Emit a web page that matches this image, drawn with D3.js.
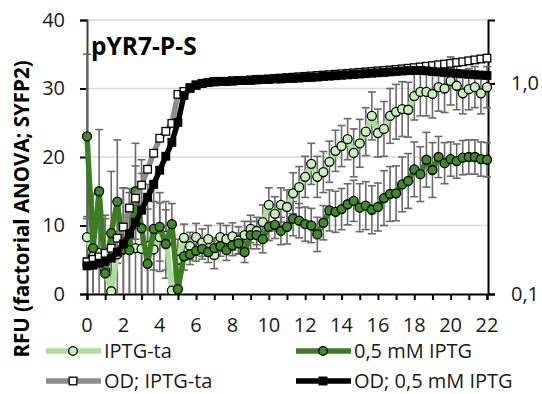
<!DOCTYPE html>
<html>
<head>
<meta charset="utf-8">
<script src="https://cdn.jsdelivr.net/npm/d3@7"></script>
<style>
  body { margin: 0; background: #fff; }
  svg { font-family: "Open Sans", sans-serif; }
</style>
</head>
<body>
<svg id="chart"></svg>
<script>
// sampling times in minutes (every 20 min)
const minutes = [0, 20, 40, 60, 80, 100, 120, 140, 160, 180, 200, 220, 240, 260, 280, 300,
  320, 340, 360, 380, 400, 420, 440, 460, 480, 500, 520, 540, 560, 580, 600, 620, 640, 660,
  680, 700, 720, 740, 760, 780, 800, 820, 840, 860, 880, 900, 920, 940, 960, 980, 1000, 1020,
  1040, 1060, 1080, 1100, 1120, 1140, 1160, 1180, 1200, 1220, 1240, 1260, 1280, 1300, 1320];

// RFU, IPTG-ta
const rfuNoIptg = [8.3, 5.5, 6.0, 3.5, 0.4, 5.8, 6.5, 6.8, 6.7, 6.6, 7.0, 6.5, 8.3, 8.5, 0.5, 5.0,
  8.2, 7.0, 8.3, 7.5, 8.0, 5.7, 8.3, 8.0, 8.4, 7.8, 8.6, 9.5, 9.2, 10.5, 13.0, 11.7, 13.0, 12.7,
  14.7, 15.6, 17.1, 19.0, 17.1, 17.8, 19.3, 20.9, 21.6, 22.6, 20.6, 22.0, 23.7, 26.0, 23.5, 24.1,
  26.0, 26.6, 27.0, 26.9, 28.9, 29.5, 29.5, 29.2, 30.2, 30.0, 31.1, 30.4, 29.3, 29.9, 30.2, 29.3, 30.2];
const errNoIptg = [3, 9, 6, 8, 6, 8, 9, 8, 12, 11, 9, 7, 5, 5, 2, 3,
  2, 2, 2, 2, 2, 2, 2, 2, 2, 2, 2, 2, 2, 2.5, 2.5, 2.5, 2.5, 2.5,
  3, 3, 3, 3, 3, 3, 3, 3, 3, 3, 3.5, 3.5, 3.5, 3.5, 3.5, 4,
  4, 4, 4, 4, 3.5, 3.5, 3.5, 3.5, 3.5, 3.5, 3.5, 3.5, 3, 3, 3, 3, 3];

// RFU, 0,5 mM IPTG
const rfuIptg = [23, 6.7, 15, 3.0, 8.9, 13.5, 6.5, 6.4, 15.0, 9.6, 4.4, 9.5, 9.8, 7.3, 10.2, 0.7,
  5.5, 5.8, 6.3, 6.6, 6.1, 6.7, 7.0, 6.4, 7.1, 7.4, 6.1, 8.6, 8.6, 8.0, 9.8, 10.1, 9.2, 9.8,
  11.0, 10.7, 10.2, 10.0, 8.7, 10.4, 12.2, 12.0, 12.4, 13.1, 13.6, 12.6, 12.9, 12.3, 12.7, 14.0,
  14.6, 14.7, 16.0, 16.5, 18.2, 17.5, 19.6, 18.1, 20.0, 19.1, 19.7, 19.4, 19.9, 20.0, 20.0, 19.7, 19.6];
const errIptg = [12, 8, 9, 8, 9, 9, 9, 9, 7, 10, 8, 6, 5, 5, 3, 1,
  2, 1.5, 1.5, 1.5, 1.5, 1.5, 1.5, 1.5, 1.5, 1.5, 1.5, 2, 2, 2, 2, 2, 2, 2.5,
  2.5, 2.5, 2.5, 2.5, 2.5, 2.5, 3, 3, 3, 3, 3, 3.5, 3.5, 3.5, 3.5, 4,
  4, 4, 4, 4, 4, 4, 4, 4, 3, 3, 2.5, 2.5, 2.5, 2.5, 2.5, 2.5, 2.5];

// OD (secondary axis)
const odNoIptg = [0.142, 0.146, 0.150, 0.156, 0.165, 0.184, 0.208, 0.256, 0.285, 0.329, 0.391, 0.466,
  0.549, 0.592, 0.646, 0.887, 0.916, 0.955, 0.985, 1.0, 1.011, 1.016, 1.022, 1.022, 1.027, 1.033,
  1.033, 1.039, 1.045, 1.045, 1.05, 1.056, 1.06, 1.065, 1.07, 1.075, 1.08, 1.085, 1.09, 1.095, 1.10,
  1.105, 1.11, 1.116, 1.122, 1.128, 1.134, 1.14, 1.146, 1.152, 1.158, 1.165, 1.172, 1.18, 1.188,
  1.197, 1.206, 1.215, 1.225, 1.235, 1.245, 1.256, 1.267, 1.28, 1.293, 1.306, 1.318];
const odIptg = [0.136, 0.137, 0.140, 0.143, 0.148, 0.158, 0.173, 0.193, 0.219, 0.250, 0.288, 0.332,
  0.387, 0.451, 0.525, 0.653, 0.877, 0.947, 0.978, 1.0, 1.011, 1.022, 1.022, 1.022, 1.027, 1.033,
  1.033, 1.033, 1.039, 1.045, 1.045, 1.05, 1.05, 1.056, 1.056, 1.06, 1.065, 1.068, 1.072, 1.079,
  1.083, 1.088, 1.093, 1.098, 1.103, 1.108, 1.113, 1.118, 1.123, 1.128, 1.134, 1.14, 1.145, 1.15,
  1.152, 1.152, 1.148, 1.14, 1.134, 1.128, 1.122, 1.116, 1.11, 1.104, 1.099, 1.095, 1.091];

const xTicks = [0, 2, 4, 6, 8, 10, 12, 14, 16, 18, 20, 22];
const yTicks = [0, 10, 20, 30, 40];
const y2Ticks = [0.1, 1.0];

const seriesNames = ["IPTG-ta", "0,5 mM IPTG", "OD; IPTG-ta", "OD; 0,5 mM IPTG"];

const width = 542, height = 394;
const margin = {top: 20, right: 54, bottom: 100, left: 87};

const svg = d3.select("#chart")
  .attr("width", width)
  .attr("height", height);

const x = d3.scaleLinear().domain([0, 22]).range([margin.left, width - margin.right - 1]);
const y = d3.scaleLinear().domain([0, 40]).range([height - margin.bottom, margin.top]);
const y2 = d3.scaleLog().domain([0.1, 2]).range([height - margin.bottom, margin.top]);

const hours = minutes.map(m => m / 60);

// clip to plot area
svg.append("clipPath").attr("id", "plot")
  .append("rect")
  .attr("x", margin.left - 6).attr("y", margin.top)
  .attr("width", width - margin.right - margin.left + 12)
  .attr("height", height - margin.bottom - margin.top);

// gridlines
svg.append("g")
  .selectAll("line")
  .data(yTicks.slice(1))
  .enter().append("line")
  .attr("x1", x(0)).attr("x2", x(22))
  .attr("y1", d => y(d)).attr("y2", d => y(d))
  .attr("stroke", "#d9d9d9")
  .attr("stroke-width", 1.5);

// left axis
const yAxis = svg.append("g")
  .attr("transform", `translate(${x(0)},0)`)
  .call(d3.axisLeft(y).tickValues(yTicks).tickSize(7).tickPadding(15));

// right axis
const y2Axis = svg.append("g")
  .attr("transform", `translate(${x(22) + 1},0)`)
  .call(d3.axisRight(y2).tickValues(y2Ticks).tickSize(7).tickPadding(16)
    .tickFormat(d => d3.format(".1f")(d).replace(".", ",")));

// bottom axis
const xAxis = svg.append("g")
  .attr("transform", `translate(0,${y(0)})`)
  .call(d3.axisBottom(x).ticks(22).tickSize(6).tickFormat(""));

svg.append("g")
  .selectAll("text")
  .data(xTicks)
  .enter().append("text")
  .attr("x", d => x(d))
  .attr("y", 332)
  .attr("text-anchor", "middle")
  .attr("font-size", 20)
  .attr("fill", "#1a1a1a")
  .text(d => d);

[yAxis, y2Axis, xAxis].forEach(g => {
  g.select(".domain").attr("stroke", "#000").attr("stroke-width", 2);
  g.selectAll(".tick line").attr("stroke", "#000").attr("stroke-width", 2);
  g.selectAll(".tick text").attr("font-size", 20).attr("fill", "#1a1a1a").attr("font-family", "Open Sans");
});
yAxis.select(".domain").attr("stroke", "#404040");

const plot = svg.append("g").attr("clip-path", "url(#plot)");

// error bars
function errorBars(values, errs) {
  const g = plot.append("g").attr("stroke", "#6a6a6a").attr("stroke-width", 1.6);
  values.forEach((v, i) => {
    const cx = x(hours[i]);
    const top = y(v + errs[i]), bot = y(Math.max(v - errs[i], -1));
    g.append("line").attr("x1", cx).attr("x2", cx).attr("y1", top).attr("y2", bot);
    g.append("line").attr("x1", cx - 4).attr("x2", cx + 4).attr("y1", top).attr("y2", top);
    g.append("line").attr("x1", cx - 4).attr("x2", cx + 4).attr("y1", bot).attr("y2", bot);
  });
}
errorBars(rfuNoIptg, errNoIptg);
errorBars(rfuIptg, errIptg);

const rfuLine = d3.line().x((d, i) => x(hours[i])).y(d => y(d));
const odLine = d3.line().x((d, i) => x(hours[i])).y(d => y2(d));

// RFU series
function circleSeries(values, lineColor, fill) {
  plot.append("path")
    .datum(values)
    .attr("d", rfuLine)
    .attr("fill", "none")
    .attr("stroke", lineColor)
    .attr("stroke-width", 5.5)
    .attr("stroke-linejoin", "round");
  plot.append("g")
    .selectAll("circle")
    .data(values)
    .enter().append("circle")
    .attr("cx", (d, i) => x(hours[i]))
    .attr("cy", d => y(d))
    .attr("r", 4.5)
    .attr("fill", fill)
    .attr("stroke", "#000")
    .attr("stroke-width", 1.3);
}
circleSeries(rfuNoIptg, "#addf9c", "#c8f0b8");
circleSeries(rfuIptg, "#3c7d22", "#3f8b28");

// OD series
function squareSeries(values, lineColor, fill) {
  plot.append("path")
    .datum(values)
    .attr("d", odLine)
    .attr("fill", "none")
    .attr("stroke", lineColor)
    .attr("stroke-width", 5.5);
  plot.append("g")
    .selectAll("rect")
    .data(values)
    .enter().append("rect")
    .attr("x", (d, i) => x(hours[i]) - 3.8)
    .attr("y", d => y2(d) - 3.8)
    .attr("width", 7.6).attr("height", 7.6)
    .attr("fill", fill)
    .attr("stroke", "#000")
    .attr("stroke-width", 1.3);
}
squareSeries(odNoIptg, "#8c8c8c", "#fff");
squareSeries(odIptg, "#000", "#000");

// title
svg.append("text")
  .attr("x", 91).attr("y", 55)
  .attr("font-size", 24.5)
  .attr("font-weight", "bold")
  .attr("fill", "#000")
  .text("pYR7-P-S");

// y-axis label
svg.append("text")
  .attr("transform", "translate(29,209) rotate(-90)")
  .attr("text-anchor", "middle")
  .attr("font-size", 20.5)
  .attr("font-weight", "bold")
  .attr("fill", "#000")
  .text("RFU (factorial ANOVA; SYFP2)");

// legend
const legendItems = [
  {name: seriesNames[0], color: "#addf9c", fill: "#c8f0b8", shape: "circle", lx: 46, ly: 351},
  {name: seriesNames[1], color: "#3c7d22", fill: "#3f8b28", shape: "circle", lx: 296, ly: 351},
  {name: seriesNames[2], color: "#8c8c8c", fill: "#fff", shape: "square", lx: 46, ly: 381},
  {name: seriesNames[3], color: "#000", fill: "#000", shape: "square", lx: 296, ly: 381}
];
const legend = svg.selectAll(".legend")
  .data(legendItems)
  .enter().append("g")
  .attr("class", "legend")
  .attr("transform", d => `translate(${d.lx},${d.ly})`);

legend.append("line")
  .attr("x1", 0).attr("x2", 55)
  .attr("stroke", d => d.color)
  .attr("stroke-width", 5.5);

legend.filter(d => d.shape === "circle").append("circle")
  .attr("cx", 27).attr("r", 4.3)
  .attr("fill", d => d.fill).attr("stroke", "#000").attr("stroke-width", 1.3);

legend.filter(d => d.shape === "square").append("rect")
  .attr("x", 23.2).attr("y", -3.8).attr("width", 7.6).attr("height", 7.6)
  .attr("fill", d => d.fill).attr("stroke", "#000").attr("stroke-width", 1.3);

legend.append("text")
  .attr("x", 58).attr("y", 7)
  .attr("font-size", 20)
  .attr("fill", "#1a1a1a")
  .text(d => d.name);
</script>
</body>
</html>
